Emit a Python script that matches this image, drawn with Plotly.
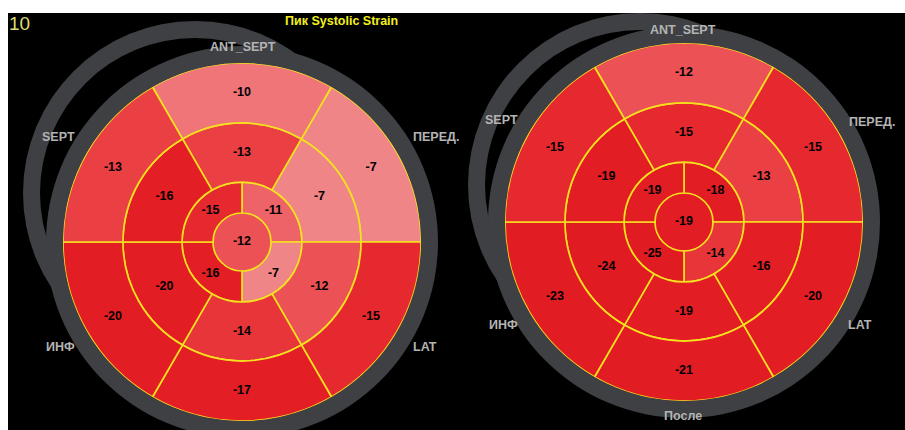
import plotly.graph_objects as go

W, H = 905, 430

# ---- segment values (peak systolic strain, %) ----
# basal / mid rings: ANT_SEPT, ANT, LAT, POST, INF, SEPT
six_angles = [90, 30, 330, 270, 210, 150]
# apical ring: ANT, LAT, INF, SEPT
four_angles = [45, 315, 225, 135]

before_basal = [-10, -7, -15, -17, -20, -13]
before_mid = [-13, -7, -12, -14, -20, -16]
before_apical = [-11, -7, -16, -15]
before_apex = [-12]

after_basal = [-12, -15, -20, -21, -23, -15]
after_mid = [-15, -13, -16, -19, -24, -19]
after_apical = [-18, -14, -25, -19]
after_apex = [-19]

wall_names = ["ANT_SEPT", "ПЕРЕД.", "LAT", "ИНФ", "SEPT"]

# ring edges of the bullseye, as a fraction of the outer radius
ring_edges = [0.0, 0.162, 0.335, 0.665, 1.0]

YELLOW = "#f5e11e"
GREY = "#3e4043"
LABEL_GREY = "#b4b4b4"
STRAIN_SCALE = [
    [0.0, "#e11b22"],
    [0.5, "#e41e25"],
    [0.667, "#ea4043"],
    [0.833, "#ef7579"],
    [1.0, "#f08588"],
]
CMIN, CMAX = -25, -7


def fx(px):
    return px / W


def fy(py):
    return 1 - py / H


def circle(cx, cy, r, color):
    return dict(type="circle", xref="paper", yref="paper", layer="below",
                x0=fx(cx - r), x1=fx(cx + r), y0=fy(cy + r), y1=fy(cy - r),
                fillcolor=color, line=dict(width=0))


fig = go.Figure()

charts = [
    ("polar", before_basal, before_mid, before_apical, before_apex),
    ("polar2", after_basal, after_mid, after_apical, after_apex),
]

for sub, basal, mid, apical, apex in charts:
    rings = [
        (apex, [0], 360, ring_edges[0], ring_edges[1], 0),
        (apical, four_angles, 90, ring_edges[1], ring_edges[2], 1.7),
        (mid, six_angles, 60, ring_edges[2], ring_edges[3], 1.7),
        (basal, six_angles, 60, ring_edges[3], ring_edges[4], 1.7),
    ]
    for vals, angs, width, r0, r1, lw in rings:
        fig.add_trace(go.Barpolar(
            subplot=sub,
            r=[r1 - r0] * len(vals), base=[r0] * len(vals),
            theta=angs, width=[width] * len(vals),
            marker=dict(color=vals, colorscale=STRAIN_SCALE, cmin=CMIN, cmax=CMAX,
                        showscale=False, line=dict(color=YELLOW, width=lw)),
            hoverinfo="skip",
        ))
    for vals, angs, width, r0, r1, lw in rings:
        rr = 0 if r0 == 0 else (r0 + r1) / 2
        fig.add_trace(go.Scatterpolar(
            subplot=sub, mode="text",
            r=[rr] * len(vals), theta=angs,
            text=[str(v) for v in vals],
            textfont=dict(family="Liberation Sans", size=12.5, color="black", weight="bold"),
            hoverinfo="skip",
        ))

axis_common = dict(
    angularaxis=dict(direction="counterclockwise", rotation=0, showgrid=False,
                     showline=False, showticklabels=False, ticks=""),
    radialaxis=dict(range=[0, 1], visible=False),
    bgcolor="rgba(0,0,0,0)",
)

# bullseye centres and outer radius in pixels
L_CX, L_CY, R_CX, R_CY, RAD = 242, 242, 684, 222, 179

shapes = [
    dict(type="rect", xref="paper", yref="paper", layer="below",
         x0=fx(8), x1=1, y0=0, y1=fy(13), fillcolor="black", line=dict(width=0)),
    # outer shell rings
    circle(195, 193, 172, GREY), circle(195, 193, 155, "black"),
    circle(L_CX, L_CY, RAD + 17, GREY),
    circle(640, 185, 172, GREY), circle(640, 185, 155, "black"),
    circle(R_CX, R_CY, RAD + 17, GREY),
]

# wall label positions (pixels) around each bullseye, in wall_names order
left_label_xy = [(243, 47), (436, 137), (425, 347), (60, 347), (58, 137)]
right_label_xy = [(683, 30), (872, 122), (860, 325), (503, 325), (501, 120)]

annotations = [
    dict(text="10", xref="paper", yref="paper", x=fx(7), y=fy(11),
         xanchor="left", yanchor="top", showarrow=False,
         font=dict(family="Liberation Sans", size=19, color="#dcdc72")),
    dict(text="Пик Systolic Strain", xref="paper", yref="paper", x=fx(341), y=fy(21),
         xanchor="center", yanchor="middle", showarrow=False,
         font=dict(family="Liberation Sans", size=12.5, color="#f2f01e", weight="bold")),
    dict(text="После", xref="paper", yref="paper", x=fx(683), y=fy(416),
         xanchor="center", yanchor="middle", showarrow=False,
         font=dict(family="Liberation Sans", size=12.5, color=LABEL_GREY, weight="bold")),
]
for xy_list in (left_label_xy, right_label_xy):
    for name, (px, py) in zip(wall_names, xy_list):
        annotations.append(dict(
            text=name, xref="paper", yref="paper", x=fx(px), y=fy(py),
            xanchor="center", yanchor="middle", showarrow=False,
            font=dict(family="Liberation Sans", size=12.5, color=LABEL_GREY, weight="bold")))

fig.update_layout(
    width=W, height=H, margin=dict(l=0, r=0, t=0, b=0),
    paper_bgcolor="white", showlegend=False,
    polar=dict(domain=dict(x=[fx(L_CX - RAD), fx(L_CX + RAD)],
                           y=[fy(L_CY + RAD), fy(L_CY - RAD)]), **axis_common),
    polar2=dict(domain=dict(x=[fx(R_CX - RAD), fx(R_CX + RAD)],
                            y=[fy(R_CY + RAD), fy(R_CY - RAD)]), **axis_common),
    shapes=shapes,
    annotations=annotations,
)

fig.write_html("out.html")
